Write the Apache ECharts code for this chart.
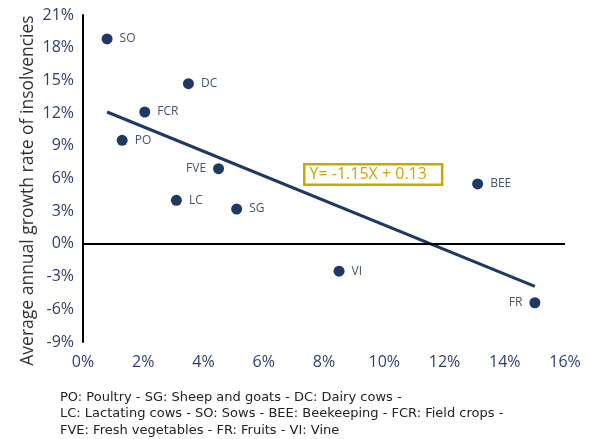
<!DOCTYPE html>
<html>
<head>
<meta charset="utf-8">
<script src="https://cdn.jsdelivr.net/npm/echarts@6/dist/echarts.min.js"></script>
<style>
  html, body { margin: 0; padding: 0; background: #fff; }
  #main { width: 590px; height: 439px; }
</style>
</head>
<body>
<div id="main"></div>
<script>
// sector codes and values (%)
var sectors = ['SO', 'DC', 'FCR', 'PO', 'FVE', 'LC', 'SG', 'VI', 'BEE', 'FR'];
var growthX = [0.8, 3.5, 2.05, 1.3, 4.5, 3.1, 5.1, 8.5, 13.1, 15.0];
var insolvY = [18.8, 14.7, 12.1, 9.5, 6.9, 4.0, 3.2, -2.5, 5.5, -5.4];
// trend line end points
var trendX = [0.8, 15.0];
var trendY = [12.1, -3.9];
var yTicks = [-9, -6, -3, 0, 3, 6, 9, 12, 15, 18, 21];
var xTicks = [0, 2, 4, 6, 8, 10, 12, 14, 16];
var equation = 'Y= -1.15X + 0.13';
var footnote = [
    'PO: Poultry - SG: Sheep and goats - DC: Dairy cows -',
    'LC: Lactating cows - SO: Sows - BEE: Beekeeping - FCR: Field crops -',
    'FVE: Fresh vegetables - FR: Fruits - VI: Vine'
];

var navy = '#1f3864';
var labelLeft = ['FVE', 'FR']; // 标签在点左边

var points = sectors.map(function (s, i) {
    return {
        name: s,
        value: [growthX[i], insolvY[i]],
        label: { position: labelLeft.indexOf(s) >= 0 ? 'left' : 'right' }
    };
});

var chart = echarts.init(document.getElementById('main'));
var option = {
    backgroundColor: '#fff',
    animation: false,
    textStyle: { fontFamily: 'Open Sans' },
    grid: { left: 83, right: 25, top: 15, bottom: 97 },
    xAxis: {
        type: 'value',
        min: xTicks[0],
        max: xTicks[xTicks.length - 1],
        interval: 2,
        axisLine: { show: false },
        axisTick: { show: false },
        splitLine: { show: false },
        axisLabel: {
            color: '#2f3f6b', fontSize: 16, margin: 12,
            formatter: '{value}%'
        }
    },
    yAxis: {
        type: 'value',
        min: yTicks[0],
        max: yTicks[yTicks.length - 1],
        interval: 3,
        name: 'Average annual growth rate of insolvencies',
        nameLocation: 'middle',
        nameGap: 46,
        nameMoveOverlap: false,
        nameTextStyle: { color: '#333', fontSize: 17.5, padding: [0, 24, 0, 0] },
        axisLine: { show: true, onZero: false, lineStyle: { color: '#000', width: 2 } },
        axisTick: { show: false },
        splitLine: { show: false },
        axisLabel: {
            color: '#2f3f6b', fontSize: 16, margin: 9,
            formatter: '{value}%'
        }
    },
    series: [{
        type: 'scatter',
        data: points,
        symbolSize: 11,
        itemStyle: { color: navy, opacity: 1 },
        label: {
            show: true,
            formatter: '{b}',
            color: '#44546a',
            fontSize: 12,
            distance: 7
        },
        markLine: {
            silent: true,
            symbol: 'none',
            label: { show: false },
            lineStyle: { color: '#000', width: 2, type: 'solid' },
            data: [{ yAxis: 0 }]
        },
        z: 3
    }, {
        type: 'line',
        data: trendX.map(function (x, i) { return [x, trendY[i]]; }),
        symbol: 'none',
        lineStyle: { color: navy, width: 3 },
        z: 2
    }],
    graphic: [{
        type: 'text',
        left: 303,
        top: 163,
        style: {
            text: equation,
            fill: '#c9a800',
            font: '16px "Open Sans"',
            backgroundColor: '#fff',
            borderColor: '#c9a800',
            borderWidth: 2.5,
            padding: [1, 14, 1, 4]
        },
        z: 10
    }, {
        type: 'text',
        left: 60,
        top: 389,
        style: {
            text: footnote.join('\n'),
            fill: '#222',
            font: '13px "DejaVu Sans"',
            lineHeight: 16.5
        }
    }]
};
chart.setOption(option);
</script>
</body>
</html>
